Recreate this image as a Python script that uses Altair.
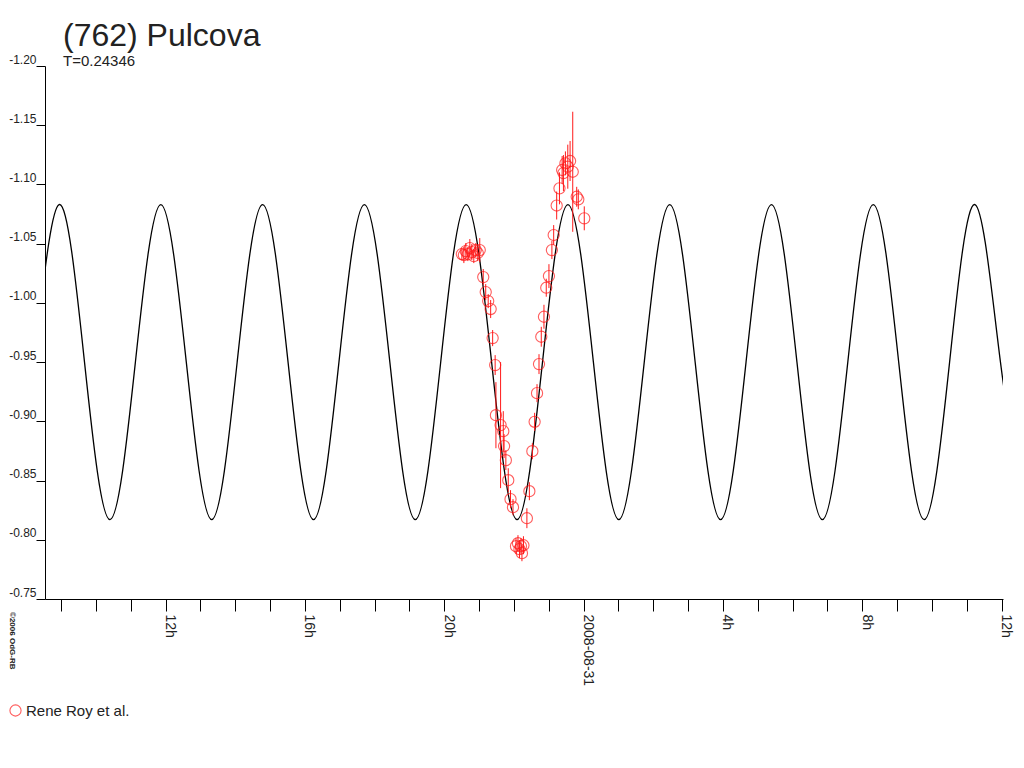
import altair as alt
import pandas as pd

# ---- data (hours since 2008-08-30 00:00 UT, magnitudes) ----
obs_hours = [20.507, 20.564, 20.621, 20.678, 20.735, 20.792, 20.849, 20.906, 20.963, 21.020,
             21.120, 21.191, 21.262, 21.333, 21.390, 21.462, 21.484, 21.618, 21.695, 21.718,
             21.769, 21.838, 21.903, 21.974, 22.060, 22.117, 22.160, 22.202, 22.231, 22.274,
             22.373, 22.444, 22.530, 22.595, 22.664, 22.721, 22.786, 22.863, 22.929, 23.006,
             23.091, 23.142, 23.228, 23.308, 23.385, 23.422, 23.479, 23.547, 23.613, 23.689,
             23.803, 23.849, 24.020]
obs_mag = [-1.0412, -1.0404, -1.0437, -1.0412, -1.0463, -1.0429, -1.0395, -1.0446, -1.0421, -1.0446,
           -1.0218, -1.0091, -1.0015, -0.9948, -0.9703, -0.9475, -0.9052, -0.8968, -0.8917, -0.8791,
           -0.8672, -0.8503, -0.8343, -0.8275, -0.7946, -0.7971, -0.7921, -0.7946, -0.7887, -0.7954,
           -0.8182, -0.8410, -0.8748, -0.8996, -0.9238, -0.9483, -0.9714, -0.9883, -1.0128, -1.0226,
           -1.0446, -1.0573, -1.0822, -1.0967, -1.1122, -1.1096, -1.1178, -1.1150, -1.1198, -1.1107,
           -1.0896, -1.0874, -1.0714]
obs_err = [0.0050, 0.0068, 0.0068, 0.0059, 0.0076, 0.0068, 0.0059, 0.0059, 0.0068, 0.0101,
           0.0068, 0.0068, 0.0059, 0.0076, 0.0068, 0.0084, 0.0279, 0.0532, 0.0169, 0.0101,
           0.0084, 0.0101, 0.0076, 0.0068, 0.0068, 0.0068, 0.0076, 0.0068, 0.0068, 0.0076,
           0.0084, 0.0076, 0.0068, 0.0076, 0.0076, 0.0084, 0.0084, 0.0101, 0.0076, 0.0101,
           0.0076, 0.0084, 0.0118, 0.0135, 0.0118, 0.0152, 0.0101, 0.0186, 0.0169, 0.0507,
           0.0084, 0.0084, 0.0101]

# fitted lightcurve read at its extremes and mid-levels
curve_hours = [7.484, 8.214, 8.944, 9.674, 10.405, 11.135, 11.865, 12.596, 13.326, 14.056,
               14.787, 15.517, 16.248, 16.978, 17.708, 18.439, 19.169, 19.899, 20.630, 21.360,
               22.091, 22.821, 23.551, 24.282, 25.012, 25.742, 26.473, 27.203, 27.933, 28.664,
               29.394, 30.125, 30.855, 31.585, 32.316, 33.046, 33.776, 34.507, 35.237, 35.967,
               36.698]
curve_mag = [-0.817, -0.950, -1.083, -0.950, -0.817, -0.950, -1.083, -0.950, -0.817, -0.950,
             -1.083, -0.950, -0.817, -0.950, -1.083, -0.950, -0.817, -0.950, -1.083, -0.950,
             -0.817, -0.950, -1.083, -0.950, -0.817, -0.950, -1.083, -0.950, -0.817, -0.950,
             -1.083, -0.950, -0.817, -0.950, -1.083, -0.950, -0.817, -0.950, -1.083, -0.950,
             -0.817]

x_tick_hours = list(range(9, 37))
x_tick_labels = {12: "12h", 16: "16h", 20: "20h", 24: "2008-08-31", 28: "4h", 32: "8h", 36: "12h"}
y_tick_values = [-1.20, -1.15, -1.10, -1.05, -1.00, -0.95, -0.90, -0.85, -0.80, -0.75]
series_name = "Rene Roy et al."

FONT = "Liberation Sans"
RED = "#ff1a1a"

obs = pd.DataFrame({"h": obs_hours, "mag": obs_mag, "err": obs_err})
obs["lo"] = obs["mag"] - obs["err"]
obs["hi"] = obs["mag"] + obs["err"]
obs["series"] = series_name
curve = pd.DataFrame({"h": curve_hours, "mag": curve_mag})

label_expr = "''"
for k in sorted(x_tick_labels, reverse=True):
    label_expr = f"datum.value == {k} ? '{x_tick_labels[k]}' : ({label_expr})"

xscale = alt.Scale(domain=[8.54, 36.04], nice=False, zero=False)
yscale = alt.Scale(domain=[-1.20, -0.75], reverse=True, nice=False, zero=False)

xaxis = alt.Axis(values=x_tick_hours, labelExpr=label_expr, labelAngle=90,
                 labelAlign="left", labelBaseline="alphabetic", labelPadding=3,
                 tickSize=12, grid=False, title=None, labelFont=FONT, labelFontSize=14,
                 labelColor="#222", domainColor="#000", tickColor="#000", labelOverlap=False,
                 labelFlush=False, labelBound=False)
yaxis = alt.Axis(values=y_tick_values,
                 labelExpr="replace(format(datum.value, '.2f'), '\u2212', '-')",
                 labelBaseline="bottom", labelPadding=0,
                 tickSize=9, grid=False, title=None, labelFont=FONT, labelFontSize=12,
                 labelColor="#222", domainColor="#000", tickColor="#000", labelFlush=False,
                 labelOverlap=False)

X = alt.X("h:Q", scale=xscale, axis=xaxis)

line = alt.Chart(curve).mark_line(color="#000", strokeWidth=1.3, interpolate="natural",
                                  clip=True).encode(
    x=X,
    y=alt.Y("mag:Q", scale=yscale, axis=yaxis),
)

bars = alt.Chart(obs).mark_rule(color=RED, strokeWidth=1).encode(
    x=X,
    y=alt.Y("lo:Q", scale=yscale, axis=yaxis),
    y2="hi:Q",
)

pts = alt.Chart(obs).mark_point(shape="circle", size=125, strokeWidth=1.1,
                                filled=False).encode(
    x=X,
    y=alt.Y("mag:Q", scale=yscale, axis=yaxis),
    color=alt.Color("series:N", scale=alt.Scale(domain=[series_name], range=[RED]),
                    legend=alt.Legend(title=None, orient="none", legendX=-37, legendY=637,
                                      labelFont=FONT, labelFontSize=15, labelColor="#222",
                                      symbolSize=125, symbolStrokeWidth=1.1, symbolType="circle",
                                      symbolFillColor="transparent", labelOffset=3, padding=0)),
)

copyright_txt = alt.Chart(pd.DataFrame({"t": ["\u00a92006 OdG-RB"]})).mark_text(
    angle=90, align="left", baseline="middle", font=FONT, fontSize=8, fontWeight="bold",
    color="#222").encode(text="t:N", x=alt.value(-33), y=alt.value(546))

chart = alt.layer(line, bars, pts, copyright_txt).properties(
    width=958, height=533, background="white",
    title=alt.TitleParams(text="(762) Pulcova", subtitle="T=0.24346", anchor="start",
                          frame="group", dx=18, offset=-17, font=FONT, fontSize=32,
                          fontWeight="normal", color="#222", subtitleFont=FONT,
                          subtitleFontSize=15, subtitleColor="#222", subtitlePadding=1),
    autosize=alt.AutoSizeParams(type="none"),
    padding={"left": 37, "top": 58, "right": 13, "bottom": 150},
).configure_view(stroke="transparent", strokeWidth=0)

chart.save("out.html", embed_options={"renderer": "svg", "actions": False})
